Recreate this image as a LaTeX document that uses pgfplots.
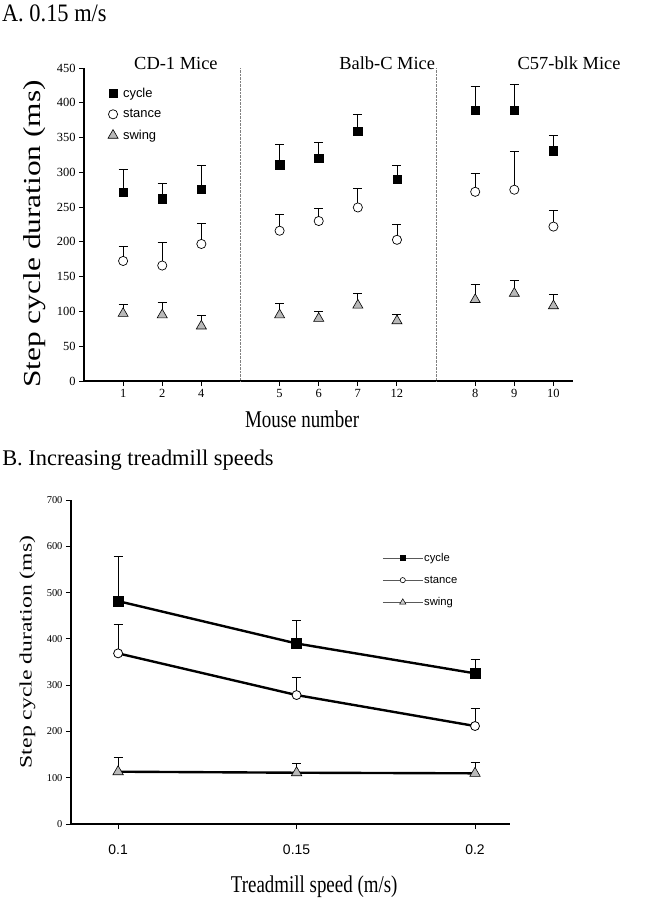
\documentclass[border=0pt]{standalone}
\usepackage{fontspec}
\setmainfont{Liberation Serif}
\newfontfamily\arial{Liberation Sans}
\usepackage{graphicx}
\usepackage{pgfplots}
\usepackage{pgfplotstable}
\pgfplotsset{compat=1.18}

% panel A: x = slot on axis (groups separated by empty slots), y = mean, e = upper SD
\pgfplotstableread{
x y e
1 271.6 32
2 262 22
3 276 34
5 311 29
6 320.7 23
7 359 25
8 290 20
10 389 34
11 389 38
12 331 22
}\cycleA
\pgfplotstableread{
x y e
1 172.6 20.5
2 166 33.5
3 197 29
5 216 24
6 230 18.6
7 249.5 27.5
8 203 22.5
10 272 26.6
11 275 55
12 222 23.7
}\stanceA
\pgfplotstableread{
x y e
1 97 13
2 95 18
3 79 15
5 95 16
6 90 9.5
7 109 17
8 86.5 9.2
10 117 22
11 126 18
12 108 17
}\swingA

% panel B
\pgfplotstableread{
x y e
0.10 481.6 97
0.15 390 49
0.20 325.5 30.5
}\cycleB
\pgfplotstableread{
x y e
0.10 368.7 62
0.15 278.6 38
0.20 211.7 38.5
}\stanceB
\pgfplotstableread{
x y e
0.10 113 32
0.15 110.8 20
0.20 109.5 23.5
}\swingB

\pgfplotsset{
  errup/.style={
    error bars/y dir=plus, error bars/y explicit,
    error bars/error bar style={line width=0.7pt, black, solid},
    error bars/error mark options={rotate=90, black, solid, line width=0.7pt, mark size=4.5bp}},
  panel/.style={
    scale only axis,
    axis x line*=bottom, axis y line*=left,
    axis line style={line width=1.4pt},
    tick align=outside, major tick length=5bp,
    tick style={line width=1pt, black},
    /pgf/number format/assume math mode=true,
    clip=false},
}

\begin{document}
\begin{tikzpicture}
\path[use as bounding box] (0,0) rectangle (655bp,-899bp);

\begin{axis}[panel,
  width=489bp, height=313bp,
  at={(84bp,-381bp)}, anchor=south west,
  xmin=0, xmax=12.5, ymin=0, ymax=450,
  xtick={1,2,3,5,6,7,8,10,11,12},
  xticklabels={1,2,4,5,6,7,12,8,9,10},
  ytick={0,50,...,450},
  ticklabel style={font=\fontsize{12.5}{12.5}\selectfont},
  extra x ticks={4,9}, extra x tick labels={},
  extra x tick style={grid=major, major tick length=0pt,
    major grid style={densely dotted, gray, line width=0.6pt}},
  title={\scalebox{1}[1.12]{A. 0.15 m/s}},
  title style={at={(axis description cs:-0.168,1.131)}, anchor=base west,
    font=\fontsize{22.5}{22.5}\selectfont, inner sep=0pt},
  xlabel={\scalebox{1}[1.27]{Mouse number}},
  xlabel style={at={(axis description cs:0.446,-0.121)}, anchor=center,
    font=\fontsize{19}{19}\selectfont},
  ylabel={\scalebox{1.285}[1]{Step cycle duration (ms)}},
  ylabel style={at={(axis description cs:-0.100,0.47)}, anchor=center,
    font=\fontsize{24.5}{24.5}\selectfont},
  legend style={at={(axis description cs:0.0426,0.947)}, anchor=north west,
    draw=none, fill=none, font=\arial\fontsize{13}{13}\selectfont,
    row sep=8.7bp, nodes={inner sep=1bp},
    /tikz/every odd column/.style={column sep=4bp}},
  legend cell align=left,
  legend image code/.code={\draw[#1] plot coordinates {(0bp,0bp)};},
]
\addplot[forget plot, only marks, mark=square*, mark size=4.2bp, black, errup]
  table[x=x, y=y, y error=e] {\cycleA};
\addplot[forget plot, only marks, mark=*, mark size=4.6bp, black,
  mark options={fill=white, line width=0.7pt}, errup]
  table[x=x, y=y, y error=e] {\stanceA};
\addplot[forget plot, only marks, mark=triangle*, mark size=5.8bp, black,
  mark options={fill=gray!55, line width=0.6pt}, errup]
  table[x=x, y=y, y error=e] {\swingA};

\addlegendimage{only marks, mark=square*, mark size=4.2bp, black}
\addlegendentry{cycle}
\addlegendimage{only marks, mark=*, mark size=4.6bp, black, mark options={fill=white, line width=0.7pt}}
\addlegendentry{stance}
\addlegendimage{only marks, mark=triangle*, mark size=5.8bp, black, mark options={fill=gray!55, line width=0.6pt}}
\addlegendentry{swing}

\node[font=\fontsize{18.5}{18.5}\selectfont] at (axis cs:2.35,457) {CD-1 Mice};
\node[font=\fontsize{18.5}{18.5}\selectfont] at (axis cs:7.75,457) {Balb-C Mice};
\node[font=\fontsize{18.5}{18.5}\selectfont] at (axis cs:12.4,457) {C57-blk Mice};
\end{axis}

\begin{axis}[panel,
  width=439bp, height=324bp,
  at={(71bp,-824bp)}, anchor=south west,
  xmin=0.0868, xmax=0.2098, ymin=0, ymax=700,
  xtick={0.1,0.15,0.2},
  ytick={0,100,...,700},
  yticklabel style={font=\fontsize{10.5}{10.5}\selectfont},
  xticklabel style={font=\arial\fontsize{14}{14}\selectfont, yshift=-12bp},
  xticklabel={\pgfmathprintnumber[fixed]{\tick}},
  title={B. Increasing treadmill speeds},
  title style={at={(axis description cs:-0.157,1.0895)}, anchor=base west,
    font=\fontsize{22.5}{22.5}\selectfont, inner sep=0pt},
  xlabel={\scalebox{1}[1.27]{Treadmill speed (m/s)}},
  xlabel style={at={(axis description cs:0.554,-0.194)}, anchor=center,
    font=\fontsize{19}{19}\selectfont},
  ylabel={\scalebox{1.36}[1]{Step cycle duration (ms)}},
  ylabel style={at={(axis description cs:-0.099,0.531)}, anchor=center,
    font=\fontsize{17.5}{17.5}\selectfont},
  legend style={at={(axis description cs:0.702,0.846)}, anchor=north west,
    draw=none, fill=none, font=\arial\fontsize{11.3}{11.3}\selectfont,
    row sep=11bp, nodes={inner sep=1bp}},
  legend cell align=left,
  legend image code/.code={\draw[mark repeat=2, mark phase=2, #1]
    plot coordinates {(0bp,0bp) (20bp,0bp) (40bp,0bp)};},
]
\addplot[forget plot, line width=2.4pt, black, mark=square*, mark size=5bp,
  mark options={solid, line width=0.6pt}, errup]
  table[x=x, y=y, y error=e] {\cycleB};
\addplot[forget plot, line width=2.4pt, black, mark=*, mark size=4.5bp,
  mark options={solid, fill=white, line width=0.8pt}, errup]
  table[x=x, y=y, y error=e] {\stanceB};
\addplot[forget plot, line width=2.4pt, black, mark=triangle*, mark size=6bp,
  mark options={solid, fill=gray!55, line width=0.6pt}, errup]
  table[x=x, y=y, y error=e] {\swingB};

\addlegendimage{line width=0.8pt, black!65, mark=square*, mark size=2.6bp, mark options={black}}
\addlegendentry{cycle}
\addlegendimage{line width=0.8pt, black!65, mark=*, mark size=2.6bp, mark options={black, fill=white, line width=0.6pt}}
\addlegendentry{stance}
\addlegendimage{line width=0.8pt, black!65, mark=triangle*, mark size=3.6bp, mark options={black, fill=gray!40, line width=0.5pt}}
\addlegendentry{swing}
\end{axis}
\end{tikzpicture}
\end{document}
